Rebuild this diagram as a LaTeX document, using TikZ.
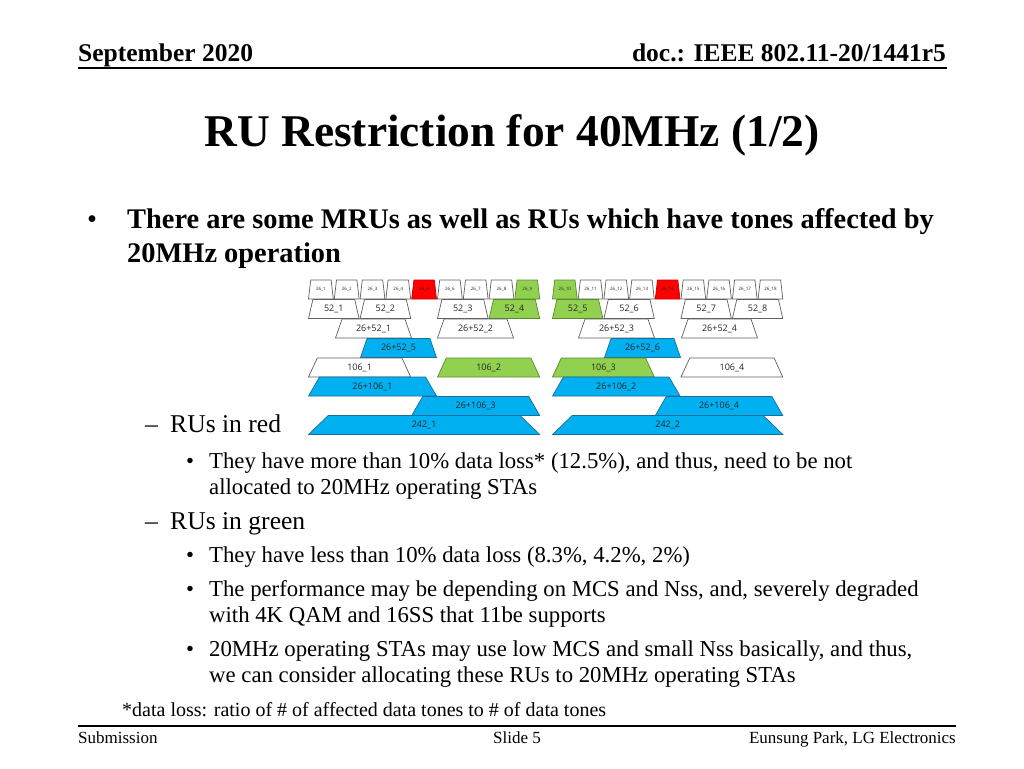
\documentclass[tikz,border=0pt]{standalone}
\usepackage{fontspec}
\setmainfont{Liberation Serif}
\newfontfamily\diagfont{Open Sans}
\definecolor{rured}{HTML}{FF0000}
\definecolor{rureddk}{HTML}{C00000}
\definecolor{rugrn}{HTML}{92D050}
\definecolor{rugrndk}{HTML}{5A8A2E}
\definecolor{rublu}{HTML}{00B0F0}
\definecolor{rubludk}{HTML}{1C6E98}
\definecolor{ruline}{HTML}{606060}
\newcommand\fs[1]{\fontsize{#1}{#1}\selectfont}
\newcommand\rutrap[7]{% name, xl, xr, ytop, shape style, label style, text
  \pgfmathsetmacro\rins{0.085*(#3-#2)}
  \draw[#5] (#2+0.5,#4+19) -- (#2+0.5+\rins,#4) -- (#3-0.5-\rins,#4) -- (#3-0.5,#4+19) -- cycle;
  \node[#6] (#1) at ({(#2+#3)/2},#4+9.5) {#7};
}
\begin{document}
\begin{tikzpicture}[x=1pt,y=-1pt,
  wht/.style={draw=ruline,fill=white,line width=0.7pt},
  rd/.style={draw=rureddk,fill=rured,line width=0.7pt},
  grn/.style={draw=rugrndk,fill=rugrn,line width=0.7pt},
  blu/.style={draw=rubludk,fill=rublu,line width=0.7pt},
  lab/.style={font=\diagfont\fs{9},inner sep=0pt,text=black!85},
  tinylab/.style={font=\diagfont\fs{4.5},inner sep=0pt,text=black!85},
  txt/.style={anchor=base west,inner sep=0pt,text=black},
]
\useasboundingbox (0,0) rectangle (1024,768);
% header
\node[txt,font=\bfseries\fs{25.5}] (hdl) at (78,62) {September 2020};
\node[anchor=base east,inner sep=0pt,font=\bfseries\fs{25.5}] (hdr) at (946,62) {doc.: IEEE 802.11-20/1441r5};
\draw[line width=1.6pt] (78,68) -- (947,68);
% title
\node[anchor=base,inner sep=0pt,font=\bfseries\fs{45.4}] (title) at (512,146) {RU Restriction for 40MHz (1/2)};
% main bullet
\node[txt,font=\fs{28.4}] (b0) at (87,228) {\textbullet};
\node[txt,font=\bfseries\fs{28.4}] (b1) at (127,228) {There are some MRUs as well as RUs which have tones affected by};
\node[txt,font=\bfseries\fs{28.4}] (b2) at (127,262) {20MHz operation};
% sub bullets
\node[txt,font=\fs{25.6}] (d1) at (145,432) {–};
\node[txt,font=\fs{25.6}] (s1) at (170,432) {RUs in red};
\node[txt,font=\fs{22.75}] (e1) at (186,468) {\textbullet};
\node[txt,font=\fs{22.75}] (t1) at (209,468) {They have more than 10\% data loss* (12.5\%), and thus, need to be not};
\node[txt,font=\fs{22.75}] (t2) at (209,494) {allocated to 20MHz operating STAs};
\node[txt,font=\fs{25.6}] (d2) at (145,529) {–};
\node[txt,font=\fs{25.6}] (s2) at (170,529) {RUs in green};
\node[txt,font=\fs{22.75}] (e2) at (186,562) {\textbullet};
\node[txt,font=\fs{22.75}] (t3) at (209,562) {They have less than 10\% data loss (8.3\%, 4.2\%, 2\%)};
\node[txt,font=\fs{22.75}] (e3) at (186,596) {\textbullet};
\node[txt,font=\fs{22.75}] (t4) at (209,596) {The performance may be depending on MCS and Nss, and, severely degraded};
\node[txt,font=\fs{22.75}] (t5) at (209,622) {with 4K QAM and 16SS that 11be supports};
\node[txt,font=\fs{22.75}] (e4) at (186,656) {\textbullet};
\node[txt,font=\fs{22.75}] (t6) at (209,656) {20MHz operating STAs may use low MCS and small Nss basically, and thus,};
\node[txt,font=\fs{22.75}] (t7) at (209,682) {we can consider allocating these RUs to 20MHz operating STAs};
\node[txt,font=\fs{20}] (fn) at (122,716) {*data loss: ratio of \# of affected data tones to \# of data tones};
% footer
\draw[line width=1.2pt] (78,726) -- (956,726);
\node[txt,font=\fs{17}] (f1) at (78,743) {Submission};
\node[anchor=base,inner sep=0pt,font=\fs{17}] (f2) at (517,743) {Slide 5};
\node[anchor=base east,inner sep=0pt,font=\fs{17}] (f3) at (956,743) {Eunsung Park, LG Electronics};
% ---- RU diagram ----
% 26-tone RUs
\foreach \i/\s in {1/wht,2/wht,3/wht,4/wht,5/rd,6/wht,7/wht,8/wht,9/grn}{
  \pgfmathsetmacro\xa{308+(\i-1)*25.8}
  \pgfmathsetmacro\xb{\xa+25.8}
  \rutrap{ru26-\i}{\xa}{\xb}{280}{\s}{tinylab}{26\_\i}
}
\foreach \i/\s in {10/grn,11/wht,12/wht,13/wht,14/rd,15/wht,16/wht,17/wht,18/wht}{
  \pgfmathsetmacro\xa{552+(\i-10)*25.7}
  \pgfmathsetmacro\xb{\xa+25.7}
  \rutrap{ru26-\i}{\xa}{\xb}{280}{\s}{tinylab}{26\_\i}
}
% 52-tone RUs
\rutrap{ru52-1}{308}{359.6}{299.5}{wht}{lab}{52\_1}
\rutrap{ru52-2}{359.6}{411.2}{299.5}{wht}{lab}{52\_2}
\rutrap{ru52-3}{437}{488.6}{299.5}{wht}{lab}{52\_3}
\rutrap{ru52-4}{488.6}{540.2}{299.5}{grn}{lab}{52\_4}
\rutrap{ru52-5}{552}{603.4}{299.5}{grn}{lab}{52\_5}
\rutrap{ru52-6}{603.4}{654.8}{299.5}{wht}{lab}{52\_6}
\rutrap{ru52-7}{680.5}{731.9}{299.5}{wht}{lab}{52\_7}
\rutrap{ru52-8}{731.9}{783.3}{299.5}{wht}{lab}{52\_8}
% 26+52 MRUs
\rutrap{m78-1}{335}{412}{319}{wht}{lab}{26+52\_1}
\rutrap{m78-2}{437}{514}{319}{wht}{lab}{26+52\_2}
\rutrap{m78-3}{578}{655}{319}{wht}{lab}{26+52\_3}
\rutrap{m78-4}{681}{758}{319}{wht}{lab}{26+52\_4}
\rutrap{m78-5}{360}{437}{338.5}{blu}{lab}{26+52\_5}
\rutrap{m78-6}{604}{681}{338.5}{blu}{lab}{26+52\_6}
% 106-tone RUs
\rutrap{ru106-1}{308}{411.2}{358}{wht}{lab}{106\_1}
\rutrap{ru106-2}{437}{540.2}{358}{grn}{lab}{106\_2}
\rutrap{ru106-3}{552}{654.8}{358}{grn}{lab}{106\_3}
\rutrap{ru106-4}{680.5}{783.3}{358}{wht}{lab}{106\_4}
% 26+106 MRUs
\rutrap{m132-1}{308}{437}{377}{blu}{lab}{26+106\_1}
\rutrap{m132-2}{552}{680.5}{377}{blu}{lab}{26+106\_2}
\rutrap{m132-3}{411.2}{540.2}{396.5}{blu}{lab}{26+106\_3}
\rutrap{m132-4}{654.8}{783.3}{396.5}{blu}{lab}{26+106\_4}
% 242-tone RUs
\rutrap{ru242-1}{308}{540.2}{415.5}{blu}{lab}{242\_1}
\rutrap{ru242-2}{552}{783.3}{415.5}{blu}{lab}{242\_2}
\end{tikzpicture}
\end{document}
